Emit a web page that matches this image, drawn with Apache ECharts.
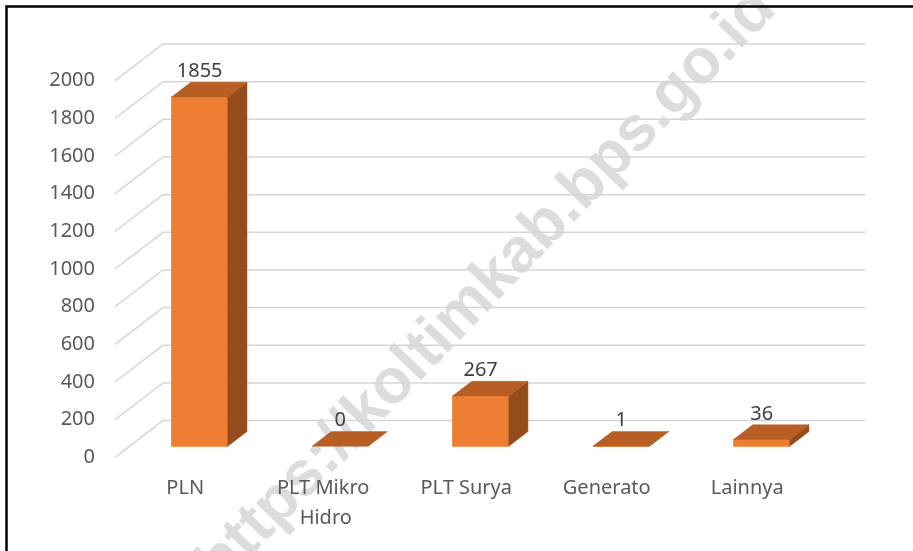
<!DOCTYPE html>
<html>
<head>
<meta charset="utf-8">
<script src="https://cdn.jsdelivr.net/npm/echarts@6/dist/echarts.min.js"></script>
<style>
  html, body { margin: 0; padding: 0; background: #fff; }
  #chart { width: 913px; height: 551px; }
</style>
</head>
<body>
<div id="chart"></div>
<script>
// data
const categories = ["PLN", "PLT Mikro Hidro", "PLT Surya", "Generato", "Lainnya"];
const values = [1855, 0, 267, 1, 36];
const yTicks = [0, 200, 400, 600, 800, 1000, 1200, 1400, 1600, 1800, 2000];

// fake 3d: full depth of the floor in px, bar sits between 30% and 70% of it
const DEPTH = [48, -36.7];
const BAR_FRONT = 0.3;
const BAR_DEPTH = 0.4;
const BAR_RATIO = 0.4;

const FRONT = "#ED7D31";
const TOP = "#B65E23";
const SIDE = "#964B1A";
const GRID = "#D6D6D6";
const FONT = "'Noto Sans', sans-serif";

const myChart = echarts.init(document.getElementById("chart"));

function renderGrid(params, api) {
  const cs = params.coordSys;
  const y = api.coord([0, api.value(1)])[1];
  const left = cs.x;
  const right = cs.x + cs.width;
  return {
    type: "polyline",
    shape: {
      points: [
        [left, y],
        [left + DEPTH[0], y + DEPTH[1]],
        [right + DEPTH[0], y + DEPTH[1]],
      ],
    },
    style: { stroke: GRID, lineWidth: 1.5, fill: null },
    silent: true,
  };
}

function renderBar(params, api) {
  const i = api.value(0);
  const v = api.value(1);
  const base = api.coord([i, 0]);
  const topPt = api.coord([i, v]);
  const w = api.size([1, 0])[0] * BAR_RATIO;
  const fx = DEPTH[0] * BAR_FRONT, fy = DEPTH[1] * BAR_FRONT;
  const dx = DEPTH[0] * BAR_DEPTH, dy = DEPTH[1] * BAR_DEPTH;
  const x0 = base[0] + fx - w / 2;
  const x1 = x0 + w;
  const yb = base[1] + fy;
  const yt = topPt[1] + fy;
  const children = [];
  if (yb - yt > 0.01) {
    children.push({
      type: "rect",
      shape: { x: x0, y: yt, width: w, height: yb - yt },
      style: { fill: FRONT, stroke: "#F08A46", lineWidth: 1 },
    });
    children.push({
      type: "polygon",
      shape: { points: [[x1, yb], [x1, yt], [x1 + dx, yt + dy], [x1 + dx, yb + dy]] },
      style: { fill: SIDE, stroke: SIDE, lineWidth: 0.5 },
    });
  }
  children.push({
    type: "polygon",
    shape: { points: [[x0, yt], [x1, yt], [x1 + dx, yt + dy], [x0 + dx, yt + dy]] },
    style: { fill: TOP, stroke: TOP, lineWidth: 0.5 },
  });
  children.push({
    type: "text",
    style: {
      text: String(v),
      x: x0 + w / 2,
      y: yt + dy - 11,
      align: "center",
      verticalAlign: "middle",
      fontSize: 20,
      fontFamily: FONT,
      fill: "#404040",
    },
  });
  return { type: "group", children: children };
}

const option = {
  backgroundColor: "#fff",
  animation: false,
  grid: {
    left: 115,
    right: 95.5,
    top: 80.7,
    bottom: 93.7,
    outerBoundsMode: "none",
  },
  xAxis: {
    type: "category",
    data: categories,
    z: 5,
    axisLine: { show: false },
    axisTick: { show: false },
    splitLine: { show: false },
    axisLabel: {
      interval: 0,
      margin: 16,
      fontSize: 20,
      lineHeight: 30,
      fontFamily: FONT,
      color: "#595959",
      width: 125,
      overflow: "break",
    },
  },
  yAxis: {
    type: "value",
    min: 0,
    max: 2000,
    interval: 200,
    z: 5,
    axisLine: { show: false },
    axisTick: { show: false },
    splitLine: { show: false },
    axisLabel: {
      margin: 20,
      fontSize: 20,
      fontFamily: FONT,
      color: "#595959",
      formatter: function (val) { return String(val); },
    },
  },
  graphic: [
    {
      type: "text",
      x: 487,
      y: 287,
      rotation: (46 * Math.PI) / 180,
      z: -10,
      silent: true,
      style: {
        text: "https://koltimkab.bps.go.id",
        align: "center",
        verticalAlign: "middle",
        fontSize: 63,
        fontWeight: "bold",
        fontFamily: "'Liberation Sans', Arial, sans-serif",
        fill: "#DCDCDC",
      },
    },
    {
      type: "polyline",
      z: 100,
      silent: true,
      shape: { points: [[6.5, 551], [6.5, 6.5], [913, 6.5]] },
      style: { stroke: "#000", lineWidth: 2.5, fill: null },
    },
  ],
  series: [
    {
      type: "custom",
      name: "grid",
      z: 2,
      silent: true,
      renderItem: renderGrid,
      data: yTicks.map(function (t) { return [0, t]; }),
    },
    {
      type: "custom",
      name: "bars",
      z: 3,
      renderItem: renderBar,
      data: values.map(function (v, i) { return [i, v]; }),
    },
  ],
};

myChart.setOption(option);
</script>
</body>
</html>
